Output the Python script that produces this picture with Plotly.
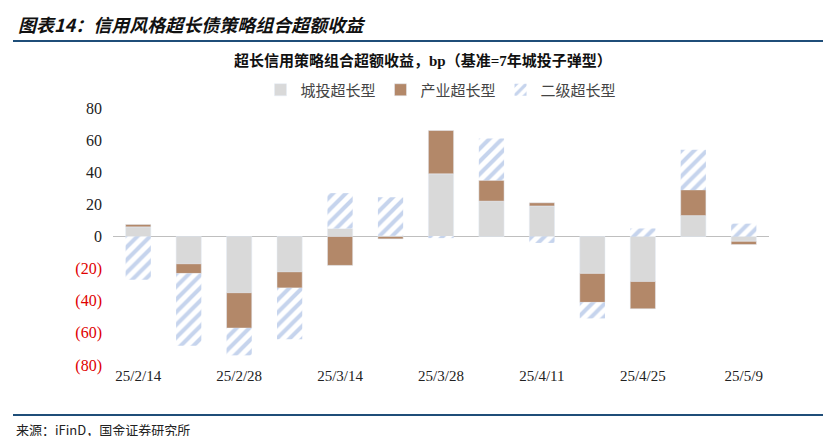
import plotly.graph_objects as go

dates = ["25/2/14", "25/2/21", "25/2/28", "25/3/7", "25/3/14", "25/3/21", "25/3/28",
         "25/4/4", "25/4/11", "25/4/18", "25/4/25", "25/5/2", "25/5/9"]
chengtou = [6, -17, -35, -22, 5, 0.5, 39, 22, 19, -23, -28, 13, -3]
chanye = [1.5, -6, -22, -10, -18, -1.5, 27, 13, 2, -18, -17, 16, -2]
erji = [-27, -45, -17, -32, 22, 24, -1, 26, -4, -10, 5, 25, 8]

tick_vals = [80, 60, 40, 20, 0, -20, -40, -60, -80]
tick_text = ["80", "60", "40", "20", "0"] + [
    '<span style="color:#e00000">(%d)</span>' % abs(v) for v in tick_vals[5:]]

W, H = 831, 436
L, R, T, B = 105, 70, 100, 79
pw, ph = W - L - R, H - T - B

def px_x(x):
    return (x - L) / pw

def px_y(y):
    return (H - B - y) / ph

fig = go.Figure()
fig.add_bar(x=dates, y=chengtou, name="城投超长型", marker_color="#d9d9d9")
fig.add_bar(x=dates, y=chanye, name="产业超长型", marker_color="#b38869")
fig.add_bar(x=dates, y=erji, name="二级超长型",
            marker=dict(color="white", line=dict(width=0),
                        pattern=dict(shape="/", fgcolor="#8eaadb", bgcolor="white",
                                     size=9, solidity=0.45)))

fig.update_layout(
    width=W, height=H, barmode="relative", bargap=0.5,
    margin=dict(l=L, r=R, t=T, b=B, autoexpand=False),
    plot_bgcolor="white", paper_bgcolor="white",
    font=dict(family="Liberation Serif, Noto Sans CJK SC", size=15, color="#222"),
    legend=dict(orientation="h", x=0.5, xanchor="center", yref="container",
                y=1 - 82 / H, yanchor="middle",
                font=dict(family="Noto Sans CJK SC", size=15, color="#444"),
                itemwidth=30, traceorder="normal"),
    shapes=[
        dict(type="line", xref="paper", yref="paper", x0=px_x(5), x1=px_x(828),
             y0=px_y(33), y1=px_y(33), line=dict(color="#1f4e79", width=2)),
        dict(type="line", xref="paper", yref="paper", x0=px_x(5), x1=px_x(828),
             y0=px_y(407), y1=px_y(407), line=dict(color="#1f4e79", width=2)),
    ],
    annotations=[
        dict(text="<b><i>图表14：信用风格超长债策略组合超额收益</i></b>", xref="paper", yref="paper",
             x=px_x(8), y=px_y(16), xanchor="left", yanchor="middle", showarrow=False,
             font=dict(family="Noto Sans CJK SC", size=18, color="#111")),
        dict(text="<b>超长信用策略组合超额收益，bp（基准=7年城投子弹型）</b>", xref="paper", yref="paper",
             x=px_x(415), y=px_y(52), xanchor="center", yanchor="middle", showarrow=False,
             font=dict(family="Liberation Serif, Noto Sans CJK SC", size=15, color="#111")),
        dict(text="来源：iFinD，国金证券研究所", xref="paper", yref="paper",
             x=px_x(6), y=px_y(421), xanchor="left", yanchor="middle", showarrow=False,
             font=dict(family="Noto Sans CJK SC", size=13, color="#222")),
    ],
)
fig.update_xaxes(tickvals=dates[::2], ticks="", showline=False, tickfont=dict(size=15))
fig.update_yaxes(range=[-80, 80], tickvals=tick_vals, ticktext=tick_text, showgrid=False,
                 zeroline=True, zerolinecolor="#bfbfbf", zerolinewidth=1,
                 ticks="", tickfont=dict(size=16), ticklabelstandoff=10)

fig.write_html("out.html")
